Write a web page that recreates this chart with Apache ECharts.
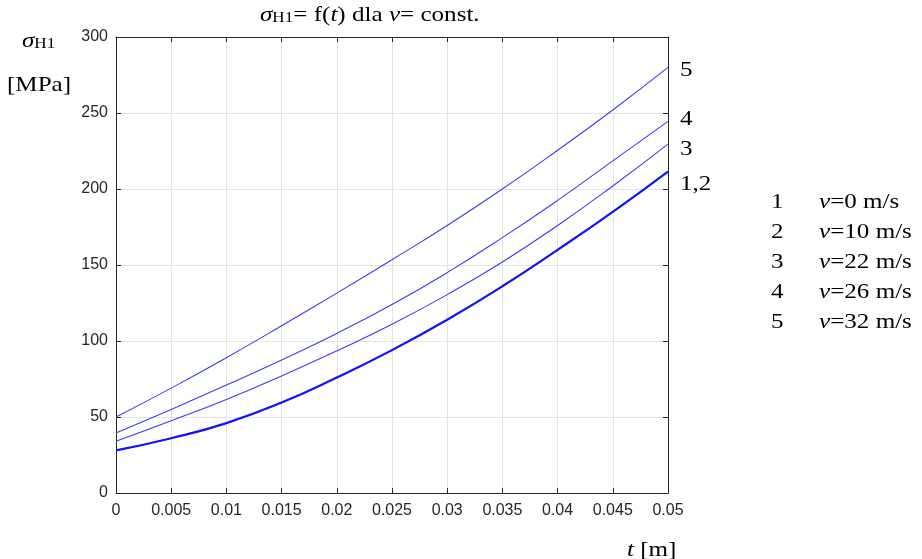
<!DOCTYPE html>
<html>
<head>
<meta charset="utf-8">
<script src="https://cdn.jsdelivr.net/npm/echarts@6/dist/echarts.min.js"></script>
<style>
  html, body { margin: 0; padding: 0; background: #fff; }
  #chart { width: 922px; height: 559px; }
</style>
</head>
<body>
<div id="chart"></div>
<script>
// thickness t [m]
const tValues = [0, 0.005, 0.01, 0.015, 0.02, 0.025, 0.03, 0.035, 0.04, 0.045, 0.05];
// contact stress sigma_H1 [MPa] for each speed v
const sigmaV0  = [28, 36, 46, 59.5, 76, 94, 114, 136, 160, 185, 211.5];
const sigmaV10 = [28, 36, 46, 59.5, 76, 94, 114, 136, 160, 185, 211.5];
const sigmaV22 = [34, 47.5, 61.5, 77, 93.5, 111, 130.5, 152, 176, 202, 229.5];
const sigmaV26 = [39.5, 55, 71, 87.5, 105, 124, 145, 168, 192.5, 218.5, 244.5];
const sigmaV32 = [50, 69, 89, 110, 131.5, 153.5, 176, 200, 225.5, 252, 280];

const speedLabels = ['v=0 m/s', 'v=10 m/s', 'v=22 m/s', 'v=26 m/s', 'v=32 m/s'];
const curveNumbers = ['1', '2', '3', '4', '5'];
const endLabels = ['1,2', '3', '4', '5'];

const xTicks = [0, 0.005, 0.01, 0.015, 0.02, 0.025, 0.03, 0.035, 0.04, 0.045, 0.05];
const xTickLabels = ['0', '0.005', '0.01', '0.015', '0.02', '0.025', '0.03', '0.035', '0.04', '0.045', '0.05'];

const pairs = arr => tValues.map((t, i) => [t, arr[i]]);

const serif = '"Liberation Serif", "Times New Roman", serif';
const sans = '"Liberation Sans", Arial, sans-serif';
const axisColor = '#262626';
const stretch = 1.14;   // serif annotations are set slightly wide
const fs = 22;

const chart = echarts.init(document.getElementById('chart'), null, { renderer: 'canvas' });

const thin = { color: '#3b3bf5', width: 1.1 };
const thick = { color: '#1414ff', width: 2.2 };

function lineSeries(name, data, style) {
  return {
    name: name, type: 'line', data: pairs(data), smooth: true, symbol: 'none',
    lineStyle: style, itemStyle: { color: style.color }, animation: false, z: 3
  };
}

const endValues = [sigmaV0[10], sigmaV22[10], sigmaV26[10], sigmaV32[10]];
const endOffsets = [12, 4, -3, 2];

const tok = (extra) => Object.assign({ fontFamily: serif, fontSize: fs, fill: '#000', verticalAlign: 'bottom', lineHeight: 26 }, extra || {});
const richSet = {
  s: tok({ fontStyle: 'italic' }),
  sub: tok({ fontSize: 15, lineHeight: 21 }),
  n: tok(),
  i: tok({ fontStyle: 'italic' })
};

function label(text, x, y) {
  return { type: 'text', x: x, y: y, scaleX: stretch, style: { text: text, rich: richSet } };
}

const graphics = [];
// title
graphics.push(label('{s|σ}{sub|H1}{n|= f(}{i|t}{n|) dla }{i|v}{n|= const.}', 260, 0));
// y-axis name
graphics.push(label('{s|σ}{sub|H1}', 22, 26));
graphics.push(label('{n|[MPa]}', 7, 70));
// x-axis name
graphics.push(label('{i|t}{n| [m]}', 627, 535));
// legend rows
const legendTop = 200;
const legendStep = 30;
speedLabels.forEach((lab, i) => {
  const y = legendTop + i * legendStep - 13;
  const parts = lab.split('=');
  graphics.push(label('{n|' + curveNumbers[i] + '}', 771, y));
  graphics.push(label('{i|' + parts[0] + '}{n|=' + parts[1] + '}', 819, y));
});

chart.setOption({
  animation: false,
  backgroundColor: '#fff',
  grid: { left: 116, right: 254, top: 37, bottom: 66, containLabel: false },
  xAxis: [{
    type: 'value', min: 0, max: 0.05, interval: 0.005,
    axisLine: { show: true, onZero: false, lineStyle: { color: axisColor, width: 1 } },
    axisTick: { show: true, inside: true, length: 5, lineStyle: { color: axisColor } },
    axisLabel: {
      color: axisColor, fontFamily: sans, fontSize: 16, margin: 10,
      formatter: v => { const k = xTicks.findIndex(x => Math.abs(x - v) < 1e-9); return k >= 0 ? xTickLabels[k] : ''; }
    },
    splitLine: { show: true, lineStyle: { color: '#e3e3e3', width: 1 } }
  }, {
    type: 'value', position: 'top', min: 0, max: 0.05, interval: 0.005,
    axisLine: { show: true, onZero: false, lineStyle: { color: axisColor, width: 1 } },
    axisTick: { show: true, inside: true, length: 5, lineStyle: { color: axisColor } },
    axisLabel: { show: false }, splitLine: { show: false }
  }],
  yAxis: [{
    type: 'value', min: 0, max: 300, interval: 50,
    axisLine: { show: true, onZero: false, lineStyle: { color: axisColor, width: 1 } },
    axisTick: { show: true, inside: true, length: 5, lineStyle: { color: axisColor } },
    axisLabel: { color: axisColor, fontFamily: sans, fontSize: 16, margin: 8 },
    splitLine: { show: true, lineStyle: { color: '#e3e3e3', width: 1 } }
  }, {
    type: 'value', position: 'right', min: 0, max: 300, interval: 50,
    axisLine: { show: true, onZero: false, lineStyle: { color: axisColor, width: 1 } },
    axisTick: { show: true, inside: true, length: 5, lineStyle: { color: axisColor } },
    axisLabel: { show: false }, splitLine: { show: false }
  }],
  series: [
    lineSeries(speedLabels[4], sigmaV32, thin),
    lineSeries(speedLabels[3], sigmaV26, thin),
    lineSeries(speedLabels[2], sigmaV22, thin),
    lineSeries(speedLabels[1], sigmaV10, { color: '#2a2aff', width: 1.2 }),
    lineSeries(speedLabels[0], sigmaV0, thick)
  ],
  graphic: graphics
});

// curve numbers next to the right edge, positioned from each curve's end value
const endGraphics = endLabels.map((lab, i) => {
  const p = chart.convertToPixel({ gridIndex: 0 }, [0.05, endValues[i]]);
  return label('{n|' + lab + '}', p[0] + 12, p[1] + endOffsets[i] - 14);
});
chart.setOption({ graphic: graphics.concat(endGraphics) });
</script>
</body>
</html>
